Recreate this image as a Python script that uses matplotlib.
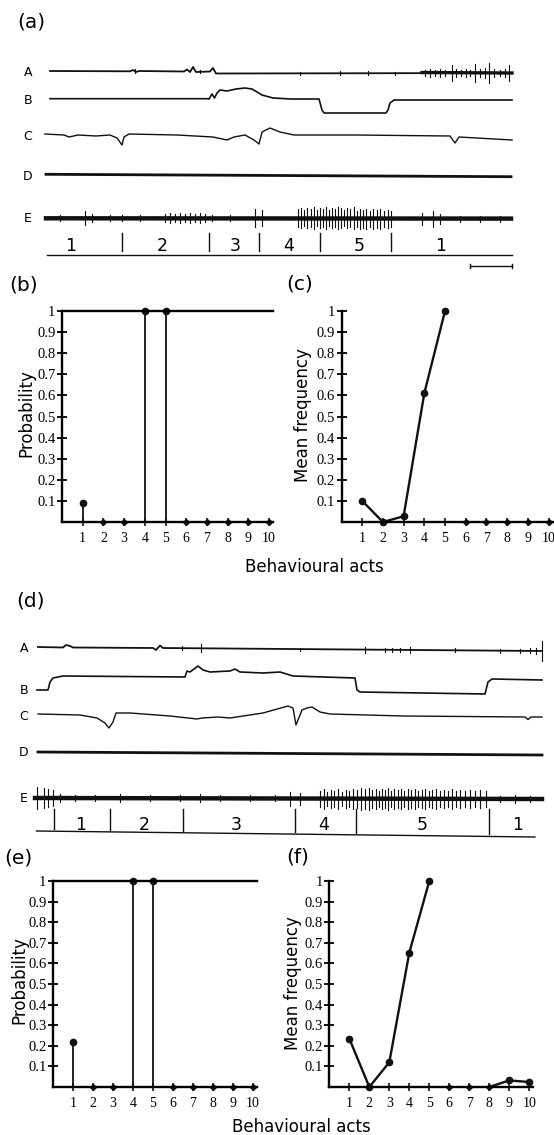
import numpy as np
import matplotlib
matplotlib.use("Agg")
from matplotlib import pyplot as plt

W, H = 554, 1135

# ---------------- data ----------------
acts = [1, 2, 3, 4, 5, 6, 7, 8, 9, 10]

prob_b = [0.092, 0, 0, 1, 1, 0, 0, 0, 0, 0]
freq_c = [0.10, 0.0, 0.027, 0.61, 1.0, 0, 0, 0, 0, 0]
freq_c_lines = [[1, 2, 3, 4, 5]]

prob_e = [0.22, 0, 0, 1, 1, 0, 0, 0, 0, 0]
freq_f = [0.235, 0.0, 0.12, 0.652, 1.0, 0, 0, 0, 0.032, 0.024]
freq_f_lines = [[1, 2, 3, 4, 5], [8, 9, 10]]

yticks = [0.1, 0.2, 0.3, 0.4, 0.5, 0.6, 0.7, 0.8, 0.9, 1.0]
ylabels = ["0.1", "0.2", "0.3", "0.4", "0.5", "0.6", "0.7", "0.8", "0.9", "1"]

channels = ["A", "B", "C", "D", "E"]

# recording (a): time / level keypoints
a_A_t = [50, 130, 133, 136, 139, 184, 187, 190, 193, 196, 210, 213, 216, 512]
a_A_y = [71, 71.3, 70, 72, 71, 71.5, 69.5, 72, 67, 72, 71.5, 68, 73.5, 73]
a_A_spk = [(135, 2), (200, 1.5), (300, 1.5), (340, 2), (368, 2), (395, 1.5),
           (425, 3), (430, 4), (435, 3), (440, 4), (445, 3), (452, 8), (456, 4),
           (461, 3), (466, 4), (470, 3), (475, 9), (480, 4), (485, 5),
           (489, 10), (494, 4), (500, 3), (505, 4), (509, 8)]
a_B_t = [50, 207, 209, 212, 214.5, 217, 220, 227, 236, 245, 252, 262, 273,
         291, 319, 322, 324, 386, 388, 390, 394, 512]
a_B_y = [98.7, 98.7, 99, 94, 98, 93, 90, 91, 89, 88, 89, 95, 98,
         99, 99, 110, 113, 113, 110, 103, 100, 100]
a_C_t = [45, 64, 69, 78, 96, 110, 117, 122, 124, 129, 177, 213, 227, 234,
         245, 254, 259, 262, 270, 280, 294, 355, 450, 455, 459, 512]
a_C_y = [134, 135, 137, 135, 136, 135, 138, 145, 137, 134, 135, 137, 140, 137,
         135, 140, 144, 132, 128, 132, 135, 135, 136, 143, 137, 140]
a_D_t = [46, 511]
a_D_y = [174.3, 176.7]
a_E_t = [46, 511]
a_E_y = [218.3, 218.6]
a_E_spk = [(60, 3), (85, 7), (92, 4), (110, 3), (122, 3), (140, 3), (165, 4),
           (170, 5), (175, 4), (180, 5), (185, 4), (190, 5), (195, 4), (200, 5),
           (205, 4), (212, 3), (230, 3), (255, 9), (262, 8),
           (298, 9), (301, 10), (304, 8), (307, 10), (311, 9), (314, 11),
           (317, 8), (320, 10), (323, 9), (326, 11), (329, 8), (332, 10),
           (335, 9), (338, 11), (341, 10), (344, 8), (347, 10), (350, 9),
           (354, 11), (357, 8), (360, 10), (363, 9), (366, 10), (370, 8),
           (373, 10), (377, 9), (380, 10), (384, 8), (388, 9), (391, 8),
           (422, 6), (433, 8), (440, 5), (460, 3), (480, 3), (500, 3)]
a_seg_ticks = [122, 208.5, 259, 320, 391]
a_seg_pos = [71, 162, 235, 289, 359, 441]
a_seg_lbl = ["1", "2", "3", "4", "5", "1"]

# recording (d)
d_A_t = [38, 63, 66, 70, 73, 153, 156, 160, 163, 542]
d_A_y = [647, 647.5, 645, 646, 647.5, 648, 650, 645.5, 648, 651]
d_A_spk = [(182, 2), (201, 4), (300, 1.5), (365, 3), (385, 2), (392, 2),
           (400, 2), (410, 3), (455, 2), (500, 2), (520, 2), (530, 2.5),
           (536, 3), (542, 10)]
d_B_t = [37, 48, 50, 53, 63, 185, 187, 190, 198, 203, 210, 230, 235, 240,
         263, 280, 293, 355, 357, 360, 485, 488, 492, 542]
d_B_y = [690, 690, 682, 678, 676, 677, 671, 672, 666, 670, 672, 671, 669, 672,
         673, 672, 676, 678, 690, 692, 694, 682, 679, 680]
d_C_t = [38, 80, 97, 105, 109, 113, 116, 130, 170, 197, 202, 218, 230, 263,
         288, 293, 296, 298, 302, 307, 312, 320, 330, 403, 525, 528, 531, 542]
d_C_y = [714, 715, 718, 723, 728, 722, 713, 713, 716, 719, 718, 717, 718, 713,
         706, 708, 725, 720, 710, 708, 707, 712, 714, 716, 717, 719.5, 717, 717]
d_D_t = [38, 542]
d_D_y = [752, 755]
d_E_t = [35, 542]
d_E_y = [798, 799]
d_E_spk = [(37, 11), (44, 10), (48, 9), (53, 8), (60, 4), (75, 3), (95, 3),
           (120, 4), (150, 3), (180, 3), (200, 4), (220, 3), (250, 3),
           (275, 3), (290, 7), (300, 6),
           (320, 8), (324, 10), (327, 7), (331, 9), (334, 8), (338, 10),
           (342, 7), (346, 9), (349, 8), (353, 10), (357, 9), (361, 11),
           (365, 10), (369, 11), (372, 9), (376, 10), (379, 8), (382, 10),
           (385, 9), (388, 11), (391, 8), (394, 10), (398, 9), (401, 10),
           (404, 8), (408, 10), (411, 9), (415, 10), (418, 8), (422, 9),
           (425, 10), (429, 8), (432, 9), (436, 10), (440, 8), (444, 9),
           (448, 8), (452, 10), (456, 8), (460, 9), (465, 8), (470, 9),
           (475, 8), (480, 9), (486, 8),
           (500, 3), (515, 4), (530, 3)]
d_seg_ticks = [54, 110, 183, 295, 356, 489]
d_seg_pos = [81, 144, 236, 324, 422, 518]
d_seg_lbl = ["1", "2", "3", "4", "5", "1"]

# ---------------- figure ----------------
fig = plt.figure(figsize=(W / 100, H / 100), dpi=100)
fig.patch.set_facecolor("white")

tr = fig.add_axes([0, 0, 1, 1])
tr.set_xlim(0, W)
tr.set_ylim(H, 0)
tr.axis("off")

ink = "#111111"


def spikes(ax, spk, t_base, y_base, lw=0.8):
    for t, amp in spk:
        yb = np.interp(t, t_base, y_base)
        ax.plot([t, t], [yb - amp, yb + amp], color=ink, lw=lw)


def recording(ax, A, B, C, D, E, label_x, label_y):
    At, Ay, Aspk = A
    ax.plot(At, Ay, color=ink, lw=1.3)
    spikes(ax, Aspk, At, Ay, lw=0.8)
    ax.plot(B[0], B[1], color=ink, lw=1.2)
    ax.plot(C[0], C[1], color=ink, lw=1.0)
    ax.plot(D[0], D[1], color=ink, lw=2.0)
    Et, Ey, Espk = E
    ax.plot(Et, Ey, color=ink, lw=3.2)
    spikes(ax, Espk, Et, Ey, lw=0.8)
    for ch, y in zip(channels, label_y):
        ax.text(label_x, y, ch, fontsize=9, ha="center", va="center")


recording(tr, (a_A_t, a_A_y, a_A_spk), (a_B_t, a_B_y), (a_C_t, a_C_y),
          (a_D_t, a_D_y), (a_E_t, a_E_y, a_E_spk), 28, [72, 101, 136, 177, 219])
# thicker noisy band at end of channel A
tr.plot([422, 512], [72.5, 73], color=ink, lw=2.4)

recording(tr, (d_A_t, d_A_y, d_A_spk), (d_B_t, d_B_y), (d_C_t, d_C_y),
          (d_D_t, d_D_y), (d_E_t, d_E_y, d_E_spk), 24, [648, 690, 716, 753, 798])

# behavioural segment bars
tr.plot([47, 512], [255, 255], color=ink, lw=1.0)
for t in a_seg_ticks:
    tr.plot([t, t], [233, 251], color=ink, lw=1.0)
for x, s in zip(a_seg_pos, a_seg_lbl):
    tr.text(x, 246, s, fontsize=12.5, ha="center", va="center")
# scale bar
tr.plot([470, 512], [266, 266], color=ink, lw=1.0)
tr.plot([470, 470], [264, 268], color=ink, lw=1.0)
tr.plot([512, 512], [264, 268], color=ink, lw=1.0)

seg_x = [36.5, 535]
seg_y = [831, 837]
tr.plot(seg_x, seg_y, color=ink, lw=1.0)
for t in d_seg_ticks:
    tr.plot([t, t], [809, np.interp(t, seg_x, seg_y) - 2], color=ink, lw=1.0)
for x, s in zip(d_seg_pos, d_seg_lbl):
    tr.text(x, 825, s, fontsize=12.5, ha="center", va="center")

# panel letters
for s, x, y in [("(a)", 31, 22), ("(b)", 24, 285), ("(c)", 300, 284),
                ("(d)", 30, 601), ("(e)", 18, 858), ("(f)", 298, 857)]:
    tr.text(x, y, s, fontsize=14.5, ha="center", va="center")

# ---------------- small charts ----------------
serif = "Liberation Serif"


def chart_axes(x0, unit, ybot, ytop, top_line):
    ax = fig.add_axes([x0 / W, 1 - ybot / H, 10.2 * unit / W, (ybot - ytop) / H])
    ax.set_xlim(0, 10.2)
    ax.set_ylim(0, 1)
    ax.patch.set_alpha(0)
    ax.spines["right"].set_visible(False)
    ax.spines["top"].set_visible(top_line)
    for sp in ["left", "bottom", "top"]:
        ax.spines[sp].set_linewidth(1.7)
    ax.set_xticks(acts)
    ax.set_xticklabels([str(a) for a in acts], fontfamily=serif, fontsize=10)
    ax.set_yticks(yticks)
    ax.set_yticklabels(ylabels, fontfamily=serif, fontsize=10.5)
    ax.tick_params(axis="y", direction="inout", length=7, width=1.3, pad=1.2)
    ax.tick_params(axis="x", direction="inout", length=6, width=1.1, pad=4)
    return ax


def stem_plot(ax, vals):
    for a, v in zip(acts, vals):
        if v > 0:
            ax.plot([a, a], [0, v], color=ink, lw=1.3, clip_on=False)
            ax.plot(a, v, "o", color=ink, ms=4.5, clip_on=False)
        else:
            ax.plot(a, 0, "D", color=ink, ms=3, clip_on=False)


def line_plot(ax, vals, lines):
    on_line = set()
    for seg in lines:
        ax.plot(seg, [vals[a - 1] for a in seg], color=ink, lw=1.7, clip_on=False)
        on_line.update(seg)
    for a, v in zip(acts, vals):
        if a in on_line and (v > 0 or a == 2):
            ax.plot(a, v, "o", color=ink, ms=4.5, clip_on=False)
        else:
            ax.plot(a, v, "D", color=ink, ms=3, clip_on=False)


ax_b = chart_axes(62, 20.7, 522, 311, True)
stem_plot(ax_b, prob_b)
ax_c = chart_axes(341.5, 20.7, 522, 311, False)
line_plot(ax_c, freq_c, freq_c_lines)
ax_e = chart_axes(53, 20.0, 1087, 881, True)
stem_plot(ax_e, prob_e)
ax_f = chart_axes(329.3, 20.0, 1087, 881, False)
line_plot(ax_f, freq_f, freq_f_lines)

tr.text(26.5, 413, "Probability", fontsize=12, rotation=90, ha="center", va="center")
tr.text(303, 415, "Mean frequency", fontsize=12, rotation=90, ha="center", va="center")
tr.text(314, 567, "Behavioural acts", fontsize=12, ha="center", va="center")
tr.text(19.5, 980, "Probability", fontsize=12, rotation=90, ha="center", va="center")
tr.text(292.5, 983, "Mean frequency", fontsize=12, rotation=90, ha="center", va="center")
tr.text(301, 1127, "Behavioural acts", fontsize=12, ha="center", va="center")

fig.savefig("out.png", dpi=100)
